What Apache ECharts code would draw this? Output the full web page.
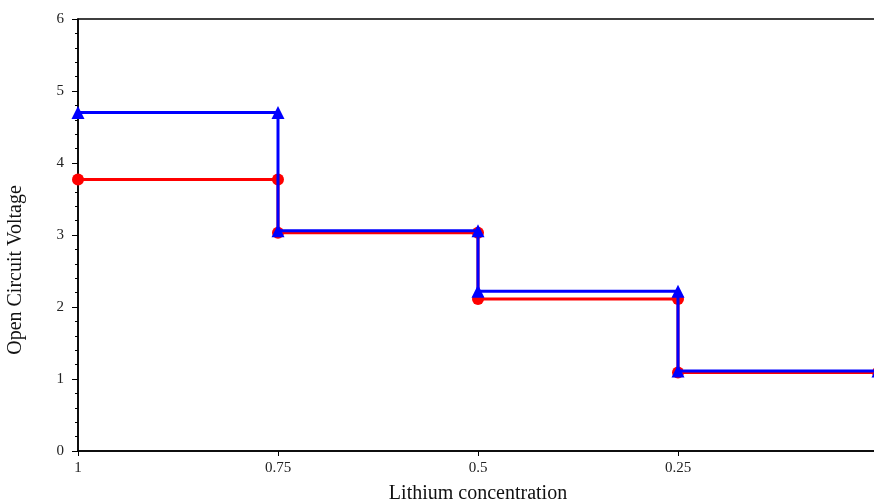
<!DOCTYPE html>
<html>
<head>
<meta charset="utf-8">
<script src="https://cdn.jsdelivr.net/npm/echarts@6/dist/echarts.min.js"></script>
<style>html,body{margin:0;padding:0;background:#fff;}#c{width:874px;height:504px;}</style>
</head>
<body>
<div id="c"></div>
<script>
const xTicks = [1, 0.75, 0.5, 0.25, 0];
const redX = [1, 0.75, 0.75, 0.5, 0.5, 0.25, 0.25, 0];
const redY = [3.77, 3.77, 3.03, 3.03, 2.11, 2.11, 1.09, 1.09];
const blueX = [1, 0.75, 0.75, 0.5, 0.5, 0.25, 0.25, 0];
const blueY = [4.7, 4.7, 3.06, 3.06, 2.22, 2.22, 1.11, 1.11];

const font = '"Liberation Serif", "Times New Roman", serif';
const chart = echarts.init(document.getElementById('c'), null, {renderer: 'canvas'});
chart.setOption({
  animation: false,
  backgroundColor: '#fff',
  grid: {left: 78, right: -4, top: 19, bottom: 53, containLabel: false, outerBoundsMode: 'none',
         show: true, borderColor: '#000', borderWidth: 1.5},
  xAxis: {
    type: 'value', min: 0, max: 1, interval: 0.25, inverse: true,
    axisLine: {onZero: false, lineStyle: {color: '#000', width: 1.5}},
    axisTick: {show: true, inside: false, length: 5, lineStyle: {color: '#000'}},
    splitLine: {show: false},
    axisLabel: {color: '#222', fontFamily: font, fontSize: 15, margin: 10,
                formatter: v => String(xTicks.find(t => Math.abs(t - v) < 1e-9) ?? v)},
    name: 'Lithium concentration', nameLocation: 'middle', nameGap: 33,
    nameTextStyle: {color: '#111', fontFamily: font, fontSize: 20}
  },
  yAxis: {
    type: 'value', min: 0, max: 6, interval: 1,
    axisLine: {show: true, onZero: false, lineStyle: {color: '#000', width: 1.5}},
    axisTick: {show: true, length: 6, lineStyle: {color: '#000'}},
    minorTick: {show: true, splitNumber: 5, length: 3, lineStyle: {color: '#000'}},
    splitLine: {show: false},
    axisLabel: {color: '#222', fontFamily: font, fontSize: 15, margin: 14},
    name: 'Open Circuit Voltage', nameLocation: 'middle', nameGap: 52, nameRotate: 90,
    nameTextStyle: {color: '#111', fontFamily: font, fontSize: 20, padding: [0, 70, 0, 0]}
  },
  series: [
    {
      type: 'line', data: redX.map((x, i) => [x, redY[i]]),
      symbol: 'circle', symbolSize: 12, showAllSymbol: true,
      lineStyle: {color: '#ff0000', width: 3}, itemStyle: {color: '#ff0000'}, z: 2
    },
    {
      type: 'line', data: blueX.map((x, i) => [x, blueY[i]]),
      symbol: 'triangle', symbolSize: 13, showAllSymbol: true,
      lineStyle: {color: '#0000ff', width: 3}, itemStyle: {color: '#0000ff'}, z: 3
    }
  ]
});
</script>
</body>
</html>
